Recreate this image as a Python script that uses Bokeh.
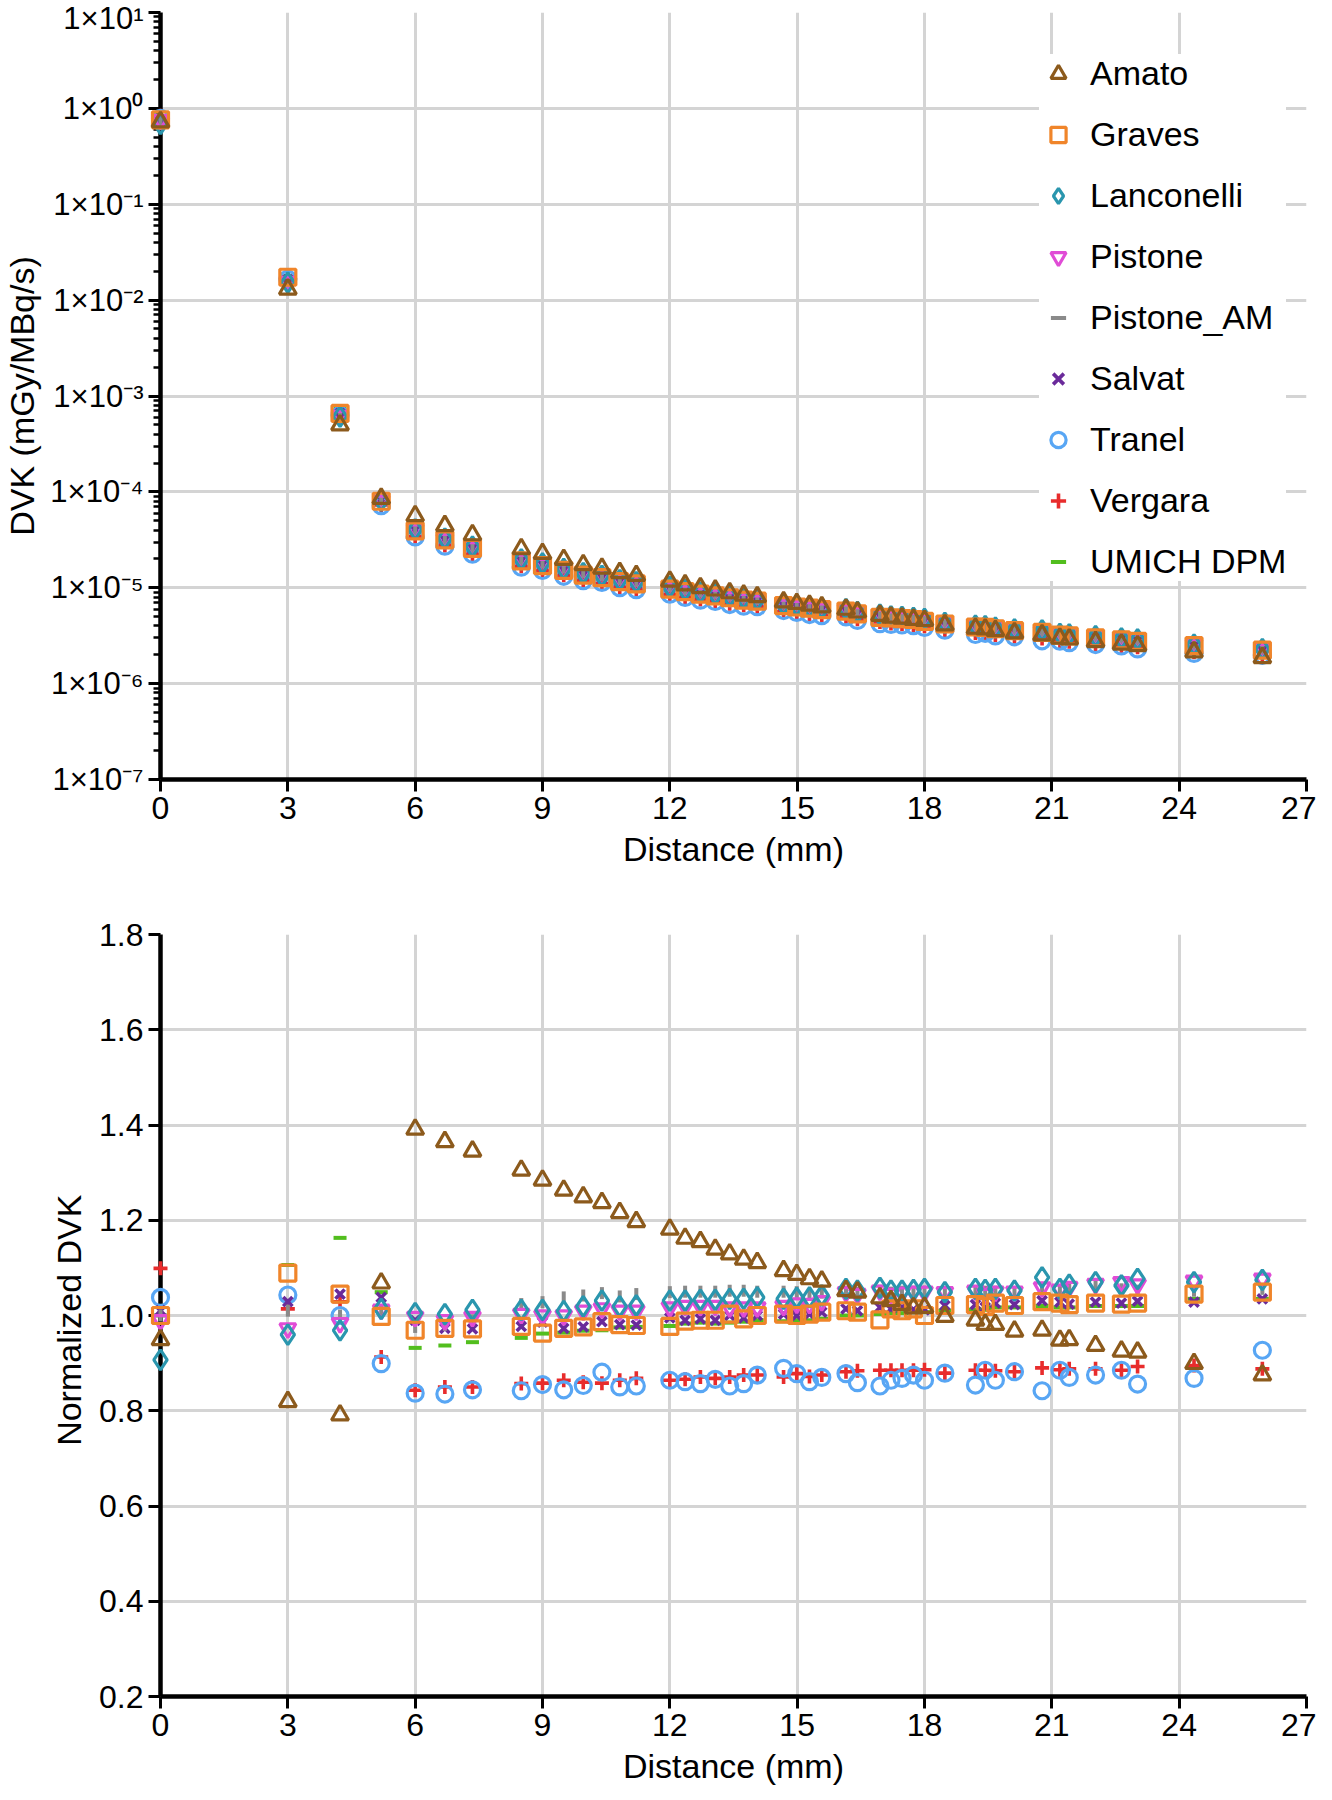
import math
from bokeh.plotting import figure
from bokeh.layouts import column
from bokeh.models import (FixedTicker, CustomJSTickFormatter, PrintfTickFormatter, Range1d,
                          Legend, LegendItem)
from bokeh.embed import file_html
from bokeh.resources import INLINE

# ---------------- data ----------------
distance = [0, 3, 4.23, 5.2, 6,
            6.7, 7.35, 8.5, 9, 9.5,
            9.96, 10.4, 10.82, 11.21, 12,
            12.36, 12.72, 13.07, 13.41, 13.74,
            14.06, 14.68, 14.99, 15.29, 15.58,
            16.15, 16.42, 16.95, 17.21, 17.47,
            17.74, 18.0, 18.48, 19.2, 19.43,
            19.67, 20.12, 20.77, 21.19, 21.41,
            22.03, 22.64, 23.02, 24.35, 25.96]

# reference DVK (mGy/MBq/s) used for normalisation
ref_dvk = [0.76, 1.59e-2, 6.3e-4, 8.0e-5, 4.05e-5,
           3.25e-5, 2.65e-5, 1.95e-5, 1.77e-5, 1.56e-5,
           1.39e-5, 1.29e-5, 1.18e-5, 1.12e-5, 9.9e-6,
           9.2e-6, 8.66e-6, 8.3e-6, 7.84e-6, 7.49e-6,
           7.24e-6, 6.5e-6, 6.3e-6, 6.1e-6, 5.88e-6,
           5.66e-6, 5.31e-6, 4.96e-6, 4.79e-6, 4.71e-6,
           4.6e-6, 4.47e-6, 4.1e-6, 3.81e-6, 3.78e-6,
           3.64e-6, 3.49e-6, 3.32e-6, 3.13e-6, 3.07e-6,
           2.92e-6, 2.79e-6, 2.69e-6, 2.38e-6, 2.13e-6]

amato = [0.949, 0.819, 0.791, 1.068, 1.391,
         1.365, 1.345, 1.305, 1.284, 1.263,
         1.249, 1.237, 1.216, 1.197, 1.181,
         1.162, 1.155, 1.139, 1.129, 1.118,
         1.111, 1.094, 1.086, 1.077, 1.072,
         1.052, 1.049, 1.037, 1.031, 1.023,
         1.016, 1.017, 0.998, 0.990, 0.981,
         0.981, 0.967, 0.969, 0.948, 0.949,
         0.937, 0.925, 0.923, 0.899, 0.875]

graves = [1.000, 1.089, 1.045, 0.998, 0.969,
          0.973, 0.972, 0.977, 0.963, 0.973,
          0.976, 0.987, 0.981, 0.979, 0.977,
          0.988, 0.990, 0.990, 1.003, 0.993,
          1.000, 1.003, 1.000, 1.003, 1.007,
          1.010, 1.007, 0.991, 1.014, 1.010,
          1.014, 1.000, 1.021, 1.023, 1.019,
          1.026, 1.021, 1.029, 1.026, 1.023,
          1.026, 1.024, 1.026, 1.045, 1.049]

lanconelli = [0.907, 0.960, 0.969, 1.014, 1.005,
              1.003, 1.012, 1.012, 1.012, 1.009,
              1.019, 1.031, 1.019, 1.021, 1.031,
              1.031, 1.033, 1.033, 1.035, 1.035,
              1.038, 1.035, 1.037, 1.038, 1.042,
              1.056, 1.052, 1.058, 1.052, 1.052,
              1.054, 1.056, 1.049, 1.056, 1.054,
              1.056, 1.052, 1.080, 1.056, 1.065,
              1.070, 1.063, 1.077, 1.070, 1.075]

pistone = [0.990, 0.973, 0.984, 1.012, 0.997,
           0.990, 0.997, 1.003, 1.000, 1.000,
           1.010, 1.015, 1.010, 1.010, 1.017,
           1.020, 1.020, 1.020, 1.017, 1.017,
           1.017, 1.020, 1.025, 1.024, 1.030,
           1.049, 1.045, 1.052, 1.045, 1.048,
           1.050, 1.050, 1.049, 1.052, 1.045,
           1.050, 1.050, 1.059, 1.054, 1.060,
           1.066, 1.070, 1.065, 1.073, 1.077]

pistone_am = [1.000, 1.010, 1.000, 1.010, 0.976,
              0.980, 0.990, 1.024, 1.028, 1.038,
              1.042, 1.047, 1.040, 1.045, 1.049,
              1.050, 1.050, 1.050, 1.052, 1.052,
              1.050, 1.050, 1.049, 1.045, 1.048,
              1.050, 1.048, 1.052, 1.048, 1.050,
              1.050, 1.050, 1.045, 1.050, 1.050,
              1.050, 1.048, 1.055, 1.050, 1.055,
              1.060, 1.055, 1.052, 1.052, 1.056]

salvat = [1.010, 1.029, 1.045, 1.038, 0.990,
          0.973, 0.972, 0.977, 0.986, 0.973,
          0.976, 0.987, 0.981, 0.980, 0.995,
          0.990, 0.993, 0.990, 1.000, 0.995,
          1.000, 1.003, 1.000, 1.003, 1.007,
          1.014, 1.010, 1.017, 1.014, 1.017,
          1.012, 1.012, 1.021, 1.023, 1.017,
          1.026, 1.023, 1.031, 1.028, 1.024,
          1.028, 1.026, 1.030, 1.028, 1.035]

tranel = [1.038, 1.043, 1.000, 0.899, 0.837,
          0.835, 0.844, 0.842, 0.855, 0.844,
          0.853, 0.881, 0.850, 0.852, 0.864,
          0.861, 0.857, 0.866, 0.852, 0.857,
          0.875, 0.889, 0.878, 0.861, 0.870,
          0.878, 0.859, 0.852, 0.864, 0.868,
          0.875, 0.864, 0.879, 0.854, 0.885,
          0.864, 0.882, 0.842, 0.885, 0.870,
          0.875, 0.885, 0.856, 0.868, 0.927]

vergara = [1.099, 1.014, 1.029, 0.913, 0.843,
           0.850, 0.850, 0.857, 0.858, 0.864,
           0.860, 0.858, 0.864, 0.868, 0.864,
           0.866, 0.871, 0.868, 0.871, 0.875,
           0.875, 0.871, 0.878, 0.872, 0.875,
           0.882, 0.884, 0.885, 0.885, 0.885,
           0.885, 0.886, 0.879, 0.885, 0.885,
           0.884, 0.882, 0.890, 0.886, 0.888,
           0.888, 0.885, 0.893, 0.895, 0.888]

umich = [1.000, 1.106, 1.163, 1.049, 0.932,
         0.937, 0.944, 0.953, 0.962, 0.964,
         0.968, 0.969, 0.975, 0.976, 0.978,
         0.983, 0.985, 0.983, 0.985, 0.987,
         0.990, 0.988, 0.990, 0.990, 0.993,
         1.000, 1.000, 1.003, 1.005, 1.005,
         1.007, 1.007, 1.010, 1.012, 1.012,
         1.017, 1.017, 1.020, 1.017, 1.017,
         1.020, 1.020, 1.020, 1.035, 1.035]

x_ticks = [0, 3, 6, 9, 12, 15, 18, 21, 24, 27]
norm_ticks = [0.2, 0.4, 0.6, 0.8, 1.0, 1.2, 1.4, 1.6, 1.8]
log_exponents = [-7, -6, -5, -4, -3, -2, -1, 0, 1]
log_ticks = [10.0 ** e for e in log_exponents]

# name, values, marker, colour, size, line width, angle   (legend order)
series = [
    ("Amato", amato, "triangle", "#8c5a1c", 17, 3.2, 0.0),
    ("Graves", graves, "square", "#f0852a", 16, 3.2, 0.0),
    ("Lanconelli", lanconelli, "diamond", "#2a96ae", 20, 3.2, 0.0),
    ("Pistone", pistone, "inverted_triangle", "#e04cd6", 16, 3.2, 0.0),
    ("Pistone_AM", pistone_am, "dash", "#8a8a8a", 12, 4.0, math.pi / 2),
    ("Salvat", salvat, "x", "#6a2a9a", 13, 3.6, 0.0),
    ("Tranel", tranel, "circle", "#58a6f4", 16, 3.2, 0.0),
    ("Vergara", vergara, "cross", "#e82c2c", 14, 3.6, 0.0),
    ("UMICH DPM", umich, "dash", "#52be1e", 13, 4.0, 0.0),
]

FONT = "Liberation Sans"
GRID = "#d4d4d4"


def style_axis(ax, minor=False, tick_size="32px"):
    ax.axis_line_color = "black"
    ax.axis_line_width = 4.5
    ax.major_tick_line_color = "black"
    ax.major_tick_line_width = 3
    ax.major_tick_out = 12
    ax.major_tick_in = 0
    if minor:
        ax.minor_tick_line_color = "black"
        ax.minor_tick_line_width = 2.5
        ax.minor_tick_out = 7
        ax.minor_tick_in = 0
    else:
        ax.minor_tick_line_color = None
    ax.major_label_text_font = FONT
    ax.major_label_text_font_size = tick_size
    ax.major_label_text_color = "black"
    ax.major_label_standoff = 5
    ax.axis_label_text_font = FONT
    ax.axis_label_text_font_size = "34px"
    ax.axis_label_text_font_style = "normal"
    ax.axis_label_text_color = "black"
    ax.axis_label_standoff = 8


def style_fig(p):
    p.outline_line_color = None
    p.background_fill_color = "white"
    p.border_fill_color = "white"
    for g in (p.xgrid, p.ygrid):
        g.grid_line_color = GRID
        g.grid_line_width = 3


# ---------------- top: absolute DVK ----------------
p1 = figure(width=1316, height=874, y_axis_type="log",
            x_range=Range1d(0, 27), y_range=Range1d(1e-7, 10),
            output_backend="svg", toolbar_location=None,
            min_border_left=155, min_border_right=10,
            min_border_top=12, min_border_bottom=95)
style_fig(p1)
p1.xaxis.ticker = FixedTicker(ticks=x_ticks)
minor_log = [k * 10.0 ** e for e in range(-7, 1) for k in range(2, 10)]
p1.yaxis.ticker = FixedTicker(ticks=log_ticks, minor_ticks=minor_log)
p1.yaxis.formatter = CustomJSTickFormatter(code="""
const e = Math.round(Math.log10(tick));
const sup = {'0':'\u2070','1':'\u00b9','2':'\u00b2','3':'\u00b3','4':'\u2074',
             '5':'\u2075','6':'\u2076','7':'\u2077','8':'\u2078','9':'\u2079','-':'\u207b'};
return '1\u00d710' + String(e).split('').map(c => sup[c]).join('');
""")
style_axis(p1.xaxis[0])
style_axis(p1.yaxis[0], minor=True, tick_size="31px")
p1.yaxis.axis_label_standoff = 6
p1.xaxis.axis_label = "Distance (mm)"
p1.yaxis.axis_label = "DVK (mGy/MBq/s)"

# ---------------- bottom: normalised DVK ----------------
p2 = figure(width=1316, height=913,
            x_range=Range1d(0, 27), y_range=Range1d(0.2, 1.8),
            output_backend="svg", toolbar_location=None,
            min_border_left=155, min_border_right=10,
            min_border_top=60, min_border_bottom=91)
style_fig(p2)
p2.xaxis.ticker = FixedTicker(ticks=x_ticks)
p2.yaxis.ticker = FixedTicker(ticks=norm_ticks)
p2.yaxis.formatter = PrintfTickFormatter(format="%.1f")
style_axis(p2.xaxis[0])
style_axis(p2.yaxis[0])
p2.xaxis.axis_label = "Distance (mm)"
p2.yaxis.axis_label = "Normalized  DVK"

legend_items = {}
# draw in reverse so that the first data set is on top
for name, vals, marker, color, size, lw, angle in reversed(series):
    absval = [r * v for r, v in zip(ref_dvk, vals)]
    kw = dict(marker=marker, size=size, line_color=color, fill_color=None,
              line_width=lw, angle=angle, level="overlay")
    r1 = p1.scatter(distance, absval, **kw)
    p2.scatter(distance, vals, **kw)
    legend_items[name] = r1

legend = Legend(items=[LegendItem(label=s[0], renderers=[legend_items[s[0]]]) for s in series],
                location=(879, 198))
legend.label_text_font = FONT
legend.label_text_font_size = "34px"
legend.label_text_color = "black"
legend.label_height = 39
legend.glyph_height = 39
legend.glyph_width = 38
legend.label_standoff = 13
legend.spacing = 22
legend.padding = 10
legend.margin = 0
legend.border_line_color = None
legend.background_fill_color = "white"
legend.background_fill_alpha = 1.0
p1.add_layout(legend, "center")

layout = column(p1, p2, spacing=0)
open("out.html", "w").write(file_html(layout, INLINE))
